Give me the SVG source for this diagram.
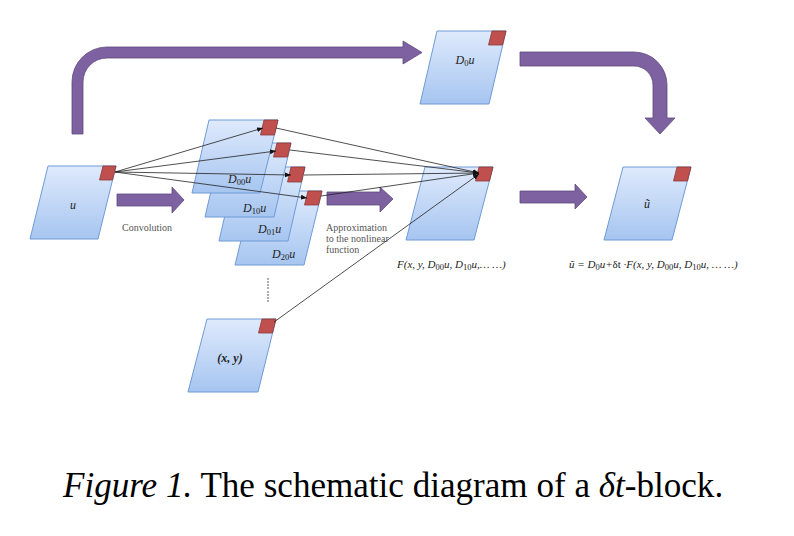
<svg xmlns="http://www.w3.org/2000/svg" width="794" height="536" viewBox="0 0 794 536">
<defs>
<linearGradient id="nodeGrad" x1="0" y1="0" x2="0" y2="1">
<stop offset="0" stop-color="#dfeafc"/>
<stop offset="1" stop-color="#a6c5f0"/>
</linearGradient>
<marker id="ah" viewBox="0 0 10 10" refX="10" refY="5" markerWidth="6" markerHeight="6" orient="auto" markerUnits="userSpaceOnUse">
<path d="M0,1 L10,5 L0,9 Z" fill="#111"/>
</marker>
<style>
.node{fill:url(#nodeGrad);stroke:#6f9bd6;stroke-width:1}
.red{fill:#c0504d;stroke:#8b3a38;stroke-width:0.8}
.blk{fill:#7d61a0;stroke:#5e4a7c;stroke-width:0.8}
.line{fill:none;stroke:#222;stroke-width:0.8;marker-end:url(#ah)}
.m{font-family:"Liberation Serif",serif;font-style:italic;font-size:12px;fill:#222}
.sub{font-style:normal;font-size:8.5px}
.f{font-size:11px}
.note{font-family:"Liberation Serif",serif;font-size:10px;fill:#555}
.cap{font-family:"Liberation Serif",serif;font-size:35.1px;fill:#000}
</style>
</defs>
<rect width="794" height="536" fill="#fff"/>

<g id="connectors">
<g id="block-arrows">
<path class="blk" d="M72,134 L72,82 A35,35 0 0 1 107,47 L403,47 L403,41 L422,52.5 L403,64 L403,58 L107,58 A24,24 0 0 0 83,82 L83,134 Z"/>
<path class="blk" d="M520,52 L634,52 A33,33 0 0 1 667,85 L667,118 L675,118 L660,134 L645,118 L653,118 L653,85 A19,19 0 0 0 634,66 L520,66 Z"/>
<path class="blk" d="M117,194 L172,194 L172,187 L184,200 L172,213 L172,206 L117,206 Z"/>
<path class="blk" d="M327,192 L380,192 L380,187 L393,199 L380,212 L380,205 L327,205 Z"/>
<path class="blk" d="M520,191 L575,191 L575,184 L587,197 L575,209 L575,203 L520,203 Z"/>
</g>
</g>

<g id="node-u">
<polygon class="node" points="48,166 116,166 98,239 30,239"/>
<polygon class="red" points="103,166 116,166 112.5,180 99.5,180"/>
<text class="m" x="73" y="209" text-anchor="middle">u</text>
</g>

<g id="node-D0u">
<polygon class="node" points="437,31 506,31 489,104 420,104"/>
<polygon class="red" points="492,31 506,31 502.5,45 488.5,45"/>
<text class="m" x="465" y="64" text-anchor="middle">D<tspan class="sub" dy="2">0</tspan><tspan dy="-2">u</tspan></text>
</g>

<g id="node-D20u">
<polygon class="node" points="253,191 322,191 304,265 235,265"/>
<polygon class="red" points="308,191 322,191 318.5,205 304.5,205"/>
<text class="m" x="272" y="258">D<tspan class="sub" dy="2">20</tspan><tspan dy="-2">u</tspan></text>
</g>
<g id="node-D01u">
<polygon class="node" points="236,167 305,167 288,241 219,241"/>
<polygon class="red" points="291,167 305,167 301.5,182 287.5,182"/>
<text class="m" x="258" y="233">D<tspan class="sub" dy="2">01</tspan><tspan dy="-2">u</tspan></text>
</g>
<g id="node-D10u">
<polygon class="node" points="222,143 291,143 274,217 205,217"/>
<polygon class="red" points="277,143 291,143 287.5,157 273.5,157"/>
<text class="m" x="243" y="212">D<tspan class="sub" dy="2">10</tspan><tspan dy="-2">u</tspan></text>
</g>
<g id="node-D00u">
<polygon class="node" points="209,120 278,120 260,193 192,193"/>
<polygon class="red" points="264,120 278,120 274.5,135 260.5,135"/>
<text class="m" x="228" y="183">D<tspan class="sub" dy="2">00</tspan><tspan dy="-2">u</tspan></text>
</g>

<g id="node-F">
<polygon class="node" points="425,167 493,167 474,240 406,240"/>
<polygon class="red" points="479,167 493,167 489.5,181 475.5,181"/>
</g>

<g id="node-utilde">
<polygon class="node" points="623,167 691,167 672,240 604,240"/>
<polygon class="red" points="677,167 691,167 687.5,181 673.5,181"/>
<text class="m" x="647" y="208" text-anchor="middle">ũ</text>
</g>

<g id="node-xy">
<polygon class="node" points="207,319 276,319 258,392 188,392"/>
<polygon class="red" points="262,319 276,319 272.5,333 258.5,333"/>
<text class="m" x="230" y="362" text-anchor="middle" font-weight="bold">(x, y)</text>
</g>

<g id="connector-lines">
<line class="line" x1="115" y1="172" x2="263" y2="128"/>
<line class="line" x1="115" y1="172" x2="276" y2="151"/>
<line class="line" x1="115" y1="172" x2="291" y2="175"/>
<line class="line" x1="115" y1="172" x2="307" y2="198"/>
<line class="line" x1="276" y1="128" x2="479" y2="173"/>
<line class="line" x1="290" y1="150" x2="479" y2="173"/>
<line class="line" x1="304" y1="175" x2="479" y2="173"/>
<line class="line" x1="321" y1="196" x2="479" y2="173"/>
<line class="line" x1="274" y1="322" x2="479" y2="174"/>
</g>

<g id="dots" fill="#444">
<circle cx="268" cy="279" r="0.8"/><circle cx="268" cy="282" r="0.8"/><circle cx="268" cy="285" r="0.8"/><circle cx="268" cy="288" r="0.8"/>
<circle cx="268" cy="292" r="0.8"/><circle cx="268" cy="295" r="0.8"/><circle cx="268" cy="298" r="0.8"/><circle cx="268" cy="301" r="0.8"/>
</g>

<g id="labels">
<text class="note" x="122" y="231">Convolution</text>
<text class="note" x="326" y="231">Approximation</text>
<text class="note" x="326" y="242">to the nonlinear</text>
<text class="note" x="326" y="253">function</text>
<text class="m f" x="397" y="268">F(x, y, D<tspan class="sub" dy="2">00</tspan><tspan dy="-2">u, D</tspan><tspan class="sub" dy="2">10</tspan><tspan dy="-2">u,… …)</tspan></text>
<text class="m f" x="569" y="268">ũ = D<tspan class="sub" dy="2">0</tspan><tspan dy="-2">u+</tspan><tspan font-style="normal">δt</tspan> ·F(x, y, D<tspan class="sub" dy="2">00</tspan><tspan dy="-2">u, D</tspan><tspan class="sub" dy="2">10</tspan><tspan dy="-2">u, … …)</tspan></text>
</g>

<text class="cap" x="63" y="497"><tspan font-style="italic">Figure 1.</tspan> The schematic diagram of a <tspan font-style="italic">δt</tspan>-block.</text>
</svg>
